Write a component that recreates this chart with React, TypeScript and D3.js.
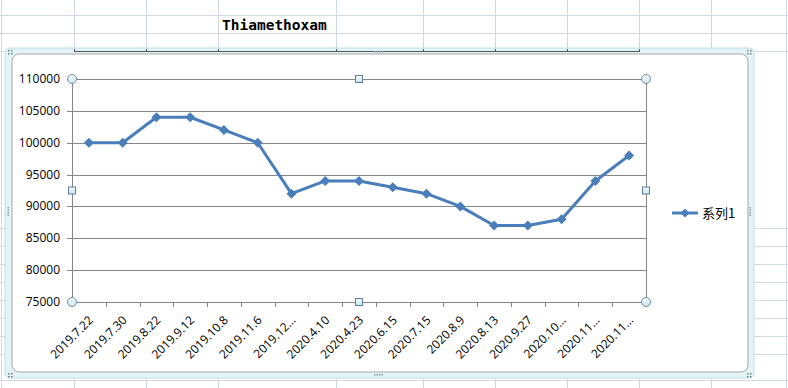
import React from "react";
import * as d3 from "d3";

const categories = [
  "2019.7.22", "2019.7.30", "2019.8.22", "2019.9.12", "2019.10.8", "2019.11.6",
  "2019.12…", "2020.4.10", "2020.4.23", "2020.6.15", "2020.7.15", "2020.8.9",
  "2020.8.13", "2020.9.27", "2020.10…", "2020.11…", "2020.11…",
];
const values = [
  100000, 100000, 104000, 104000, 102000, 100000, 92000, 94000, 94000, 93000,
  92000, 90000, 87000, 87000, 88000, 94000, 98000,
];
const yTicks = [75000, 80000, 85000, 90000, 95000, 100000, 105000, 110000];
const seriesName = "系列1";
const title = "Thiamethoxam";

const sheetCols = [1, 74, 146, 218, 336, 423, 495, 567, 639, 711, 786];
const sheetRows = [15, 33, 51, 228, 246, 264, 282, 300, 318, 336, 354, 380];

const W = 788, H = 388;
const L = 72, R = 646, T = 79, B = 302;
const BLUE = "#4a7ebb";
const GRID = "#868686";

function Diamond({ x, y, r = 5 }: { x: number; y: number; r?: number }) {
  return <path d={`M${x},${y - r}L${x + r},${y}L${x},${y + r}L${x - r},${y}Z`} fill={BLUE} />;
}

function CircleHandle({ x, y }: { x: number; y: number }) {
  return <circle cx={x} cy={y} r={4.5} fill="url(#hg)" stroke="#7a8c99" strokeWidth={1} />;
}
function SquareHandle({ x, y }: { x: number; y: number }) {
  return <rect x={x - 3.5} y={y - 3.5} width={7} height={7} fill="url(#hg)" stroke="#5c7fa3" strokeWidth={1} />;
}

function Dots({ x, y, vertical = false }: { x: number; y: number; vertical?: boolean }) {
  const arr = [0, 1, 2, 3];
  return (
    <g fill="#8a9aa6">
      {arr.map((i) =>
        vertical ? (
          <rect key={i} x={x} y={y + i * 2.5} width={1.5} height={1.5} />
        ) : (
          <rect key={i} x={x + i * 2.5} y={y} width={1.5} height={1.5} />
        )
      )}
    </g>
  );
}

export default function App() {
  const x = d3.scaleBand<string>().domain(categories.map((c, i) => i + "")).range([L, R]);
  const y = d3.scaleLinear().domain([75000, 110000]).range([B, T]);
  const cx = (i: number) => (x(i + "") as number) + x.bandwidth() / 2;
  const line = d3
    .line<number>()
    .x((_, i) => cx(i))
    .y((d) => y(d));
  const boundaries = d3.range(categories.length + 1).map((i) => L + i * x.bandwidth());

  return (
    <svg width={W} height={H} style={{ position: "absolute", left: 0, top: 0 }} fontFamily="'Open Sans', sans-serif">
      <defs>
        <linearGradient id="hg" x1="0" y1="0" x2="0" y2="1">
          <stop offset="0" stopColor="#f4fbfd" />
          <stop offset="1" stopColor="#c9e6ef" />
        </linearGradient>
      </defs>
      <rect width={W} height={H} fill="#ffffff" />
      {/* spreadsheet grid */}
      {sheetCols.map((c) => (
        <line key={"c" + c} x1={c + 0.5} x2={c + 0.5} y1={0} y2={H} stroke="#d0d7e5" />
      ))}
      {sheetRows.map((r) => (
        <line key={"r" + r} x1={0} x2={W} y1={r + 0.5} y2={r + 0.5} stroke="#d0d7e5" />
      ))}
      <text x={222} y={30} fontFamily="'DejaVu Sans Mono', monospace" fontWeight="bold" fontSize={14.5} fill="#000">
        {title}
      </text>

      {/* chart frame */}
      <rect x={5} y={48} width={749} height={330} rx={5} fill="#e3f4f6" stroke="#bcdfe5" />
      <line x1={74} x2={639} y1={51.5} y2={51.5} stroke="#555" strokeWidth={1} />
      {[74, 146, 218, 336, 423, 495, 567, 639].map((c) => (
        <line key={"t" + c} x1={c + 0.5} x2={c + 0.5} y1={49} y2={52} stroke="#555" />
      ))}
      <rect x={12} y={54} width={736} height={318} rx={7} fill="#ffffff" stroke="#a5a5a5" />
      <Dots x={374} y={51} />
      <Dots x={374} y={374} />
      <Dots x={7.5} y={207} vertical />
      <Dots x={749.5} y={207} vertical />
      {[
        [8, 50],
        [747, 50],
        [8, 373],
        [747, 373],
      ].map(([a, b], i) => (
        <g key={"k" + i} fill="#6d7e8a">
          <rect x={a} y={b} width={1.5} height={1.5} />
          <rect x={a + 3} y={b} width={1.5} height={1.5} />
          <rect x={a} y={b + 3} width={1.5} height={1.5} />
          <rect x={a + 3} y={b + 3} width={1.5} height={1.5} />
        </g>
      ))}

      {/* gridlines */}
      {yTicks.map((t) => (
        <line key={"g" + t} x1={L - 5} x2={R} y1={Math.round(y(t)) + 0.5} y2={Math.round(y(t)) + 0.5} stroke={GRID} />
      ))}
      <line x1={L + 0.5} x2={L + 0.5} y1={T} y2={B} stroke={GRID} />
      <line x1={R + 0.5} x2={R + 0.5} y1={T} y2={B} stroke={GRID} />
      {boundaries.map((b, i) => (
        <line key={"xt" + i} x1={Math.round(b) + 0.5} x2={Math.round(b) + 0.5} y1={B} y2={B + 5} stroke={GRID} />
      ))}
      {yTicks.map((t) => (
        <text key={"yl" + t} x={60} y={y(t) + 4} textAnchor="end" fontSize={12} fill="#000">
          {t}
        </text>
      ))}
      {categories.map((c, i) => (
        <text
          key={"xl" + i}
          transform={`translate(${cx(i) + 5},${B + 19}) rotate(-45)`}
          textAnchor="end"
          fontSize={12}
          fill="#000"
        >
          {c}
        </text>
      ))}

      {/* series */}
      <path d={line(values) || ""} fill="none" stroke={BLUE} strokeWidth={3} strokeLinejoin="round" />
      {values.map((v, i) => (
        <Diamond key={"d" + i} x={cx(i)} y={y(v)} />
      ))}

      {/* handles */}
      <CircleHandle x={L} y={T} />
      <CircleHandle x={R} y={T} />
      <CircleHandle x={L} y={B} />
      <CircleHandle x={R} y={B} />
      <SquareHandle x={(L + R) / 2} y={T} />
      <SquareHandle x={(L + R) / 2} y={B} />
      <SquareHandle x={L} y={(T + B) / 2} />
      <SquareHandle x={R} y={(T + B) / 2} />

      {/* legend */}
      <line x1={672} x2={698} y1={213} y2={213} stroke={BLUE} strokeWidth={3} />
      <Diamond x={685} y={213} r={4.5} />
      <text x={702} y={218} fontSize={13} fontFamily="'Noto Sans CJK SC', sans-serif" fill="#000">
        {seriesName}
      </text>
    </svg>
  );
}
